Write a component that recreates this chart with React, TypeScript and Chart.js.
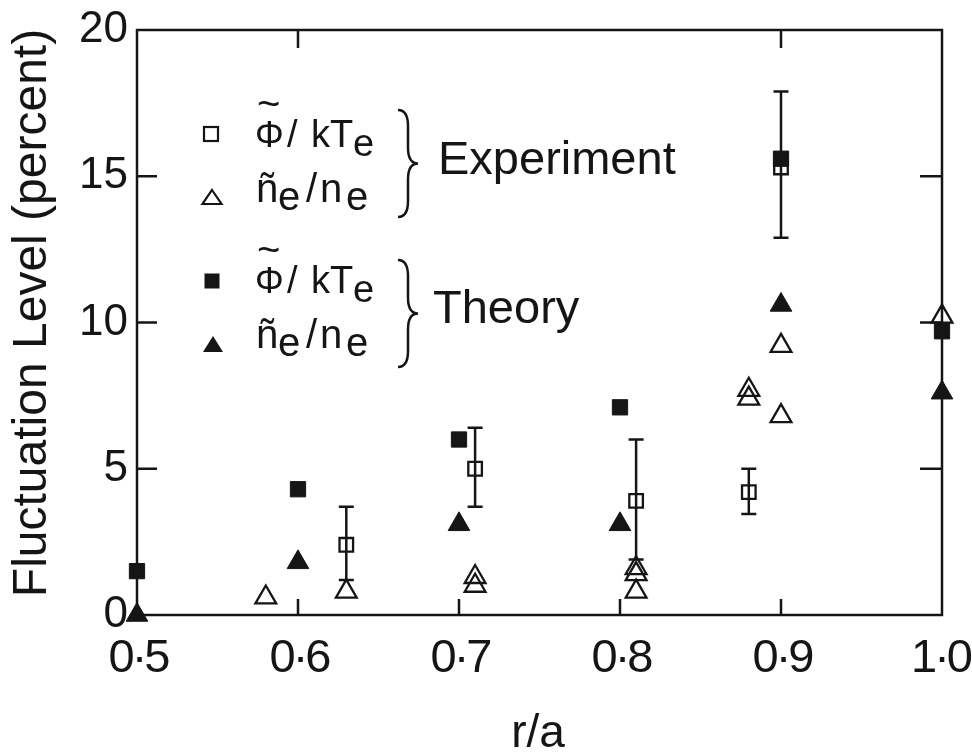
import React, { useEffect, useRef } from 'react';
import { Chart, registerables } from 'chart.js';

Chart.register(...registerables);

const INK = '#151515';
const FONT = '"Liberation Sans", Arial, sans-serif';

// Axis ticks
const xTickValues = [0.5, 0.6, 0.7, 0.8, 0.9, 1.0];
const yTickValues = [0, 5, 10, 15, 20];
const bottomMarkValues = [0.6, 0.7, 0.8, 0.9];
const topMarkValues = [0.6, 0.9];
const sideMarkValues = [5, 10, 15];

// Experiment: potential fluctuation (open squares) with error bars
const expPhiR = [0.63, 0.71, 0.81, 0.88, 0.9];
const expPhiLevel = [2.4, 5.0, 3.9, 4.2, 15.3];
const expPhiLow = [1.2, 3.7, 1.9, 3.45, 12.9];
const expPhiHigh = [3.7, 6.4, 6.0, 5.0, 17.9];

// Experiment: density fluctuation (open triangles)
const expNR = [0.58, 0.63, 0.71, 0.71, 0.81, 0.81, 0.81, 0.88, 0.88, 0.9, 0.9, 1.0];
const expNLevel = [0.6, 0.8, 1.3, 1.0, 1.6, 1.4, 0.8, 7.7, 7.4, 9.2, 6.8, 10.2];

// Theory (filled squares / filled triangles)
const theoryR = [0.5, 0.6, 0.7, 0.8, 0.9, 1.0];
const theoryPhiLevel = [1.5, 4.3, 6.0, 7.1, 15.6, 9.7];
const theoryNLevel = [0.0, 1.8, 3.1, 3.1, 10.6, 7.6];

const groupLabels = ['Experiment', 'Theory'];
const xTitle = 'r/a';
const yTitle = 'Fluctuation Level (percent)';

const toPoints = (xs: number[], ys: number[]) => xs.map((x, i) => ({ x, y: ys[i] }));
const formatR = (v: number) => v.toFixed(1).replace('.', '·');

type Piece = { text: string; dx: number; size: number; dy?: number };

const phiPieces: Piece[] = [
  { text: '~', dx: 2, size: 40, dy: -30 },
  { text: 'Φ', dx: 0, size: 36 },
  { text: '/', dx: 32, size: 38 },
  { text: 'kT', dx: 56, size: 38 },
  { text: 'e', dx: 98, size: 38, dy: 9 },
];
const nPieces: Piece[] = [
  { text: 'ñ', dx: 0, size: 40 },
  { text: 'e', dx: 22, size: 40, dy: 8 },
  { text: '/', dx: 50, size: 40 },
  { text: 'n', dx: 64, size: 40 },
  { text: 'e', dx: 90, size: 40, dy: 8 },
];

function drawPieces(ctx: CanvasRenderingContext2D, x0: number, base: number, pieces: Piece[]) {
  for (const p of pieces) {
    ctx.font = `${p.size}px ${FONT}`;
    ctx.fillText(p.text, x0 + p.dx, base + (p.dy || 0));
  }
}

function drawBrace(ctx: CanvasRenderingContext2D, x: number, yTop: number, yBot: number, w: number) {
  const ym = (yTop + yBot) / 2;
  const h = w / 2;
  ctx.beginPath();
  ctx.moveTo(x, yTop);
  ctx.quadraticCurveTo(x + h, yTop, x + h, yTop + h * 1.6);
  ctx.lineTo(x + h, ym - h * 1.6);
  ctx.quadraticCurveTo(x + h, ym, x + w, ym);
  ctx.quadraticCurveTo(x + h, ym, x + h, ym + h * 1.6);
  ctx.lineTo(x + h, yBot - h * 1.6);
  ctx.quadraticCurveTo(x + h, yBot, x, yBot);
  ctx.stroke();
}

function square(ctx: CanvasRenderingContext2D, cx: number, cy: number, s: number, filled: boolean) {
  if (filled) ctx.fillRect(cx - s / 2, cy - s / 2, s, s);
  else ctx.strokeRect(cx - s / 2, cy - s / 2, s, s);
}

function triangle(ctx: CanvasRenderingContext2D, cx: number, cy: number, w: number, h: number, filled: boolean) {
  ctx.beginPath();
  ctx.moveTo(cx, cy - h / 2);
  ctx.lineTo(cx + w / 2, cy + h / 2);
  ctx.lineTo(cx - w / 2, cy + h / 2);
  ctx.closePath();
  if (filled) ctx.fill();
  else ctx.stroke();
}

const framePlugin = {
  id: 'frame',
  beforeDatasetsDraw(chart: any) {
    const { ctx, chartArea: a, scales } = chart;
    const x = scales.x;
    const y = scales.y;
    ctx.save();
    ctx.strokeStyle = INK;
    ctx.lineWidth = 2.5;
    ctx.strokeRect(a.left, a.top, a.right - a.left, a.bottom - a.top);
    ctx.beginPath();
    for (const v of bottomMarkValues) {
      const px = x.getPixelForValue(v);
      ctx.moveTo(px, a.bottom);
      ctx.lineTo(px, a.bottom - 16);
    }
    for (const v of topMarkValues) {
      const px = x.getPixelForValue(v);
      ctx.moveTo(px, a.top);
      ctx.lineTo(px, a.top + 18);
    }
    for (const v of sideMarkValues) {
      const py = y.getPixelForValue(v);
      ctx.moveTo(a.left, py);
      ctx.lineTo(a.left + 20, py);
      ctx.moveTo(a.right, py);
      ctx.lineTo(a.right - 22, py);
    }
    ctx.stroke();

    // error bars on the measured potential fluctuation
    ctx.beginPath();
    expPhiR.forEach((r, i) => {
      const px = x.getPixelForValue(r);
      const top = y.getPixelForValue(expPhiHigh[i]);
      const bot = y.getPixelForValue(expPhiLow[i]);
      ctx.moveTo(px, top);
      ctx.lineTo(px, bot);
      ctx.moveTo(px - 7.5, top);
      ctx.lineTo(px + 7.5, top);
      ctx.moveTo(px - 7.5, bot);
      ctx.lineTo(px + 7.5, bot);
    });
    ctx.stroke();
    ctx.restore();
  },
  afterDraw(chart: any) {
    const { ctx, chartArea: a, scales, width } = chart;
    ctx.save();
    ctx.fillStyle = INK;
    ctx.strokeStyle = INK;
    ctx.textAlign = 'center';
    ctx.textBaseline = 'alphabetic';

    // r/a tick labels, set a little tighter than the font's natural spacing
    ctx.font = `47px ${FONT}`;
    (ctx as any).letterSpacing = '-3px';
    for (const v of xTickValues) {
      const label = formatR(v);
      const half = ctx.measureText(label).width / 2;
      let cx = scales.x.getPixelForValue(v) + 1;
      if (cx + half > width - 2) cx = width - 2 - half;
      ctx.fillText(label, cx, a.bottom + 57);
    }
    (ctx as any).letterSpacing = '0px';

    ctx.textAlign = 'left';
    // legend symbols
    ctx.lineWidth = 2.2;
    square(ctx, 211, 134, 14, false);
    triangle(ctx, 212, 197, 19, 14, false);
    square(ctx, 212, 281, 15, true);
    triangle(ctx, 213, 344, 20, 16, true);

    // legend labels
    drawPieces(ctx, 255, 147, phiPieces);
    drawPieces(ctx, 256, 202, nPieces);
    drawPieces(ctx, 255, 293, phiPieces);
    drawPieces(ctx, 256, 348, nPieces);

    // braces and group names
    ctx.lineWidth = 2.5;
    drawBrace(ctx, 398, 110, 217, 20);
    drawBrace(ctx, 398, 260, 367, 20);
    ctx.font = `47px ${FONT}`;
    ctx.fillText(groupLabels[0], 438, 174);
    ctx.fillText(groupLabels[1], 433, 323);

    // axis titles
    ctx.textAlign = 'center';
    ctx.font = `46px ${FONT}`;
    ctx.fillText(xTitle, 538, 747);
    ctx.translate(46, 313);
    ctx.rotate(-Math.PI / 2);
    ctx.font = `48px ${FONT}`;
    ctx.fillText(yTitle, 0, 0);
    ctx.restore();
  },
};

export default function App() {
  const canvasRef = useRef<HTMLCanvasElement | null>(null);

  useEffect(() => {
    if (!canvasRef.current) return;
    const chart = new Chart(canvasRef.current, {
      type: 'scatter',
      data: {
        datasets: [
          {
            label: 'Theory Φ/kTe',
            data: toPoints(theoryR, theoryPhiLevel),
            pointStyle: 'rect',
            pointRadius: 10.8,
            borderWidth: 1,
            borderColor: INK,
            backgroundColor: INK,
            clip: false,
          },
          {
            label: 'Theory ne/ne',
            data: toPoints(theoryR, theoryNLevel),
            pointStyle: 'triangle',
            pointRadius: 12.5,
            borderWidth: 1,
            borderColor: INK,
            backgroundColor: INK,
            clip: false,
          },
          {
            label: 'Experiment Φ/kTe',
            data: toPoints(expPhiR, expPhiLevel),
            pointStyle: 'rect',
            pointRadius: 9.6,
            borderWidth: 2.3,
            borderColor: INK,
            backgroundColor: 'rgba(0,0,0,0)',
            clip: false,
          },
          {
            label: 'Experiment ne/ne',
            data: toPoints(expNR, expNLevel),
            pointStyle: 'triangle',
            pointRadius: 12,
            borderWidth: 2.3,
            borderColor: INK,
            backgroundColor: 'rgba(0,0,0,0)',
            clip: false,
          },
        ],
      },
      options: {
        animation: false,
        responsive: true,
        maintainAspectRatio: false,
        layout: { padding: { top: 30, right: 30, left: 0, bottom: 0 } },
        plugins: { legend: { display: false }, tooltip: { enabled: false } },
        scales: {
          x: {
            type: 'linear',
            min: 0.5,
            max: 1.0,
            grid: { display: false, drawTicks: false },
            border: { display: false },
            afterBuildTicks: (s: any) => {
              s.ticks = xTickValues.map((v) => ({ value: v }));
            },
            afterFit: (s: any) => {
              s.height = 141;
              s.paddingLeft = 0;
              s.paddingRight = 0;
            },
            ticks: { display: false },
          },
          y: {
            type: 'linear',
            min: 0,
            max: 20,
            grid: { display: false, drawTicks: false },
            border: { display: false },
            afterBuildTicks: (s: any) => {
              s.ticks = yTickValues.map((v) => ({ value: v }));
            },
            afterFit: (s: any) => {
              s.width = 137;
              s.paddingTop = 0;
              s.paddingBottom = 0;
            },
            ticks: {
              padding: 9,
              color: INK,
              font: { family: FONT, size: 44 },
              autoSkip: false,
              callback: (v: any) => String(v),
            },
          },
        },
      },
      plugins: [framePlugin],
    } as any);
    return () => chart.destroy();
  }, []);

  return (
    <div style={{ position: 'fixed', left: 0, top: 0, width: 972, height: 756, background: '#fff' }}>
      <canvas ref={canvasRef} />
    </div>
  );
}
